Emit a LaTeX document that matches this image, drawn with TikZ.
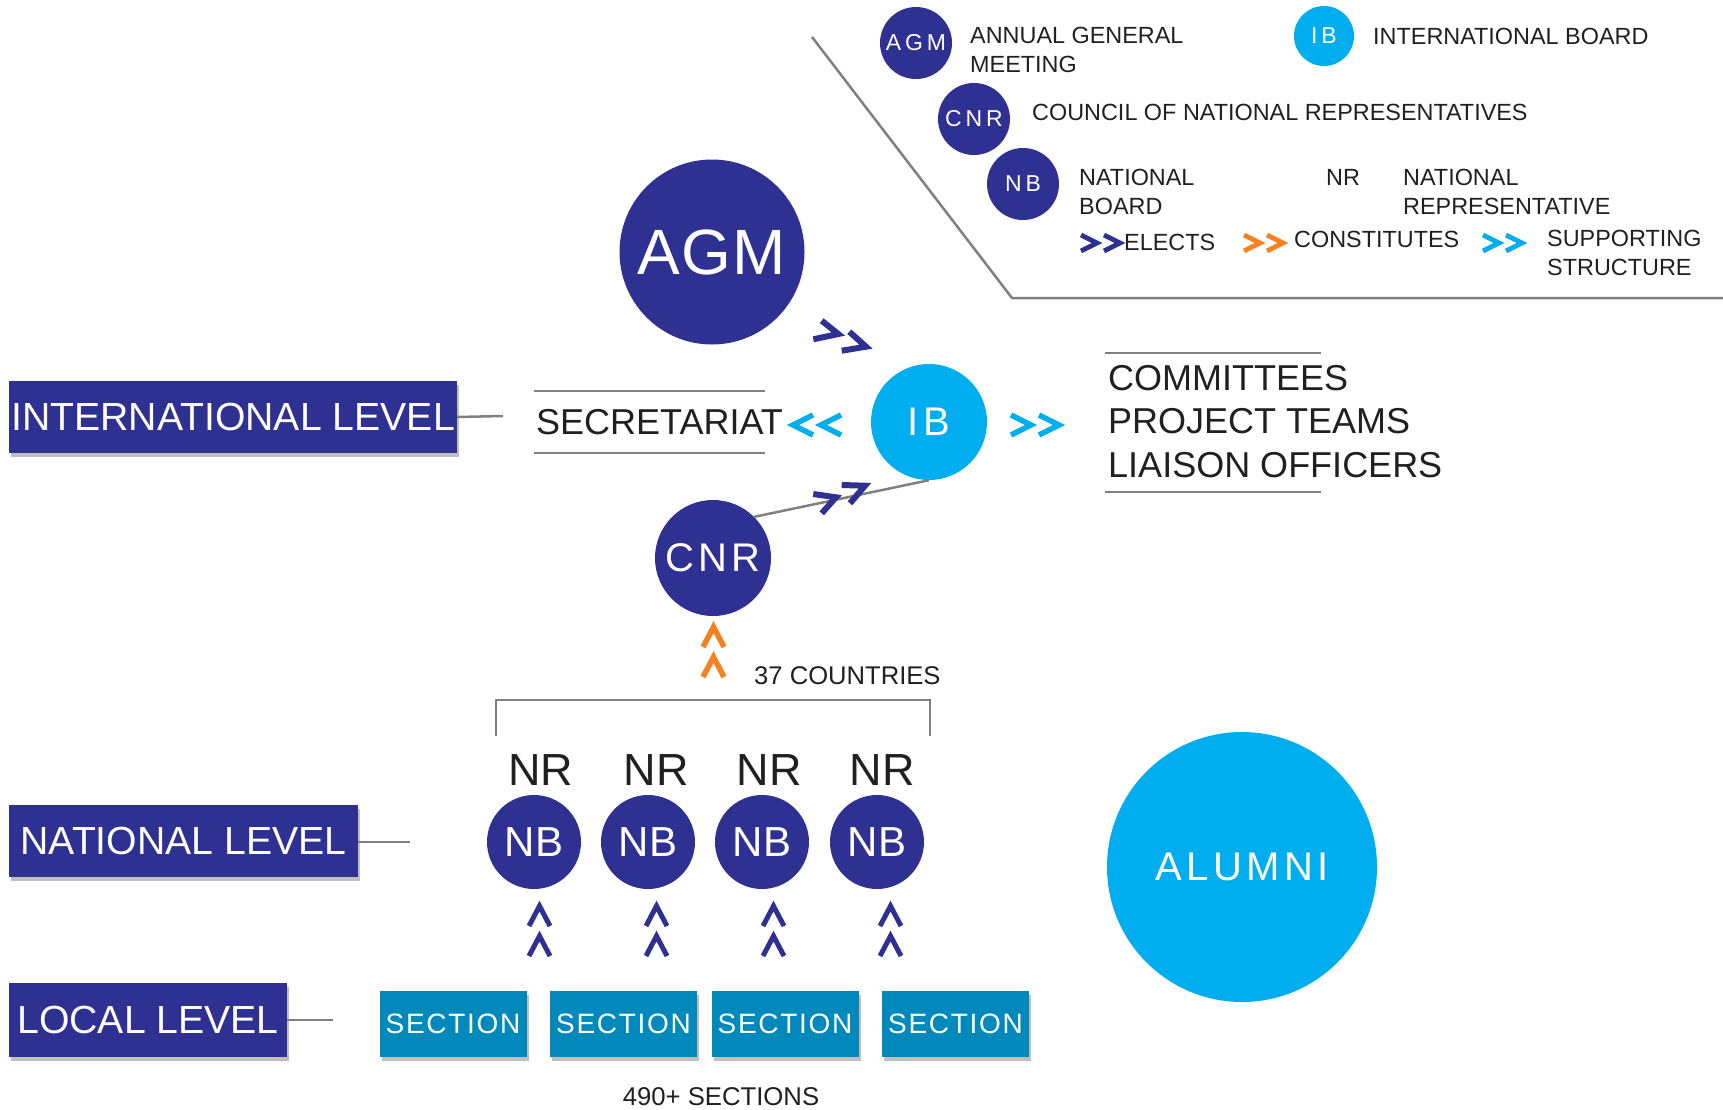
\documentclass[tikz,border=0pt]{standalone}
\usepackage{fontspec}
\setmainfont{Liberation Sans}
\usetikzlibrary{shadows}
\definecolor{dkblue}{HTML}{2E3192}
\definecolor{cyanb}{HTML}{00AEEF}
\definecolor{secblue}{HTML}{0089BA}
\definecolor{orng}{HTML}{F5821F}
\definecolor{lgray}{HTML}{808080}
\definecolor{txtdark}{HTML}{231F20}
\newcommand{\fsz}[2]{\fontsize{#1}{#2}\selectfont}
\newcommand{\lsp}[1]{\addfontfeatures{LetterSpace=#1}}
\tikzset{
  dkcirc/.style={circle, fill=dkblue, text=white, inner sep=0pt},
  cycirc/.style={circle, fill=cyanb, text=white, inner sep=0pt},
  levelbox/.style={rectangle, fill=dkblue, text=white, inner sep=0pt,
    font={\fsz{39.2}{44}},
    drop shadow={shadow xshift=2pt, shadow yshift=-4pt, fill=black, opacity=0.25}},
  secbox/.style={rectangle, fill=secblue, text=white, inner sep=0pt,
    minimum width=147pt, minimum height=66pt, font={\fsz{28}{32}\lsp{6}},
    drop shadow={shadow xshift=2pt, shadow yshift=-4pt, fill=black, opacity=0.25}},
  gline/.style={draw=lgray, line width=2.5pt},
  chevline/.style={line width=5.5pt, line join=miter, miter limit=10, line cap=butt},
  legtxt/.style={text=txtdark, inner sep=0pt, font={\fsz{23.4}{28.5}}, align=left},
  bigtxt/.style={text=txtdark, inner sep=0pt, font={\fsz{36}{43.5}}, align=left},
}
% chevrons centred at (#2,#3)
\newcommand{\chevR}[4][5.5pt]{\draw[chevline, line width=#1, draw=#4] (#2-10,#3-10) -- (#2+10,#3) -- (#2-10,#3+10);}
\newcommand{\chevL}[4][5.5pt]{\draw[chevline, line width=#1, draw=#4] (#2+10,#3-10) -- (#2-10,#3) -- (#2+10,#3+10);}
\newcommand{\chevU}[4][5.5pt]{\draw[chevline, line width=#1, draw=#4] (#2-10.5,#3+10) -- (#2,#3-10) -- (#2+10.5,#3+10);}
\newcommand{\chevRs}[3]{\draw[chevline, line width=4.8pt, draw=#3] (#1-8,#2-8) -- (#1+8,#2) -- (#1-8,#2+8);}
\begin{document}
\begin{tikzpicture}[x=1pt,y=-1pt]
\useasboundingbox (0,0) rectangle (1723,1109);

% ---------- legend ----------
\draw[gline] (812,37) -- (1012,298) -- (1723,298);
\node[dkcirc, minimum size=72pt, font={\fsz{23}{26}\lsp{17}}] (lagm) at (916,43) {AGM};
\node[legtxt, anchor=north west] (lagmt) at (970,27) {ANNUAL GENERAL\\MEETING};
\node[cycirc, minimum size=60pt, font={\fsz{23}{26}\lsp{17}}] (lib) at (1324,36) {IB};
\node[legtxt, anchor=west] (libt) at (1373,36) {INTERNATIONAL BOARD};
\node[dkcirc, minimum size=72pt, font={\fsz{23}{26}\lsp{17}}] (lcnr) at (974,119) {CNR};
\node[legtxt, anchor=west] (lcnrt) at (1032,112) {COUNCIL OF NATIONAL REPRESENTATIVES};
\node[dkcirc, minimum size=72pt, font={\fsz{23}{26}\lsp{17}}] (lnb) at (1023,184) {NB};
\node[legtxt, anchor=north west] (lnbt) at (1079,169) {NATIONAL\\BOARD};
\node[legtxt, anchor=north west] (lnr) at (1326,169) {NR};
\node[legtxt, anchor=north west] (lnrt) at (1403,169) {NATIONAL\\REPRESENTATIVE};
\chevRs{1089}{243}{dkblue}
\chevRs{1112}{243}{dkblue}
\node[legtxt, anchor=west] (lel) at (1124,242) {ELECTS};
\chevRs{1252}{243}{orng}
\chevRs{1275}{243}{orng}
\node[legtxt, anchor=west] (lco) at (1294,239) {CONSTITUTES};
\chevRs{1491}{243}{cyanb}
\chevRs{1514}{243}{cyanb}
\node[legtxt, anchor=north west] (lsu) at (1547,230) {SUPPORTING\\STRUCTURE};

% ---------- international level ----------
\node[dkcirc, minimum size=185pt, font={\fsz{64}{70}\lsp{2}}] (agm) at (712,252) {AGM};
\node[cycirc, minimum size=116pt, font={\fsz{40}{44}\lsp{14}}] (ib) at (929,422) {IB};
\node[dkcirc, minimum size=116pt, font={\fsz{40}{44}\lsp{11}}] (cnr) at (713,558) {CNR};

\node[levelbox, minimum width=448pt, minimum height=72pt] (intl) at (233,417) {INTERNATIONAL LEVEL};
\coordinate (intlend) at (503,416);
\draw[gline] (intl.east) -- (intlend);

\node[bigtxt, anchor=west] (sec) at (536,422) {SECRETARIAT};
\draw[gline] (534,391) -- (765,391);
\draw[gline] (534,453) -- (765,453);

\node[bigtxt, anchor=north west] (comm) at (1108,365) {COMMITTEES\\PROJECT TEAMS\\LIAISON OFFICERS};
\draw[gline] (1105,353) -- (1321,353);
\draw[gline] (1105,492) -- (1321,492);

% supporting structure chevrons
\chevL{803}{425}{cyanb}
\chevL{831}{425}{cyanb}
\chevR{1021}{425}{cyanb}
\chevR{1049}{425}{cyanb}

% AGM elects IB
\draw[chevline, draw=dkblue, line width=6pt] (821.7,320.7) -- (838.3,334) -- (813.3,339.3);
\draw[chevline, draw=dkblue, line width=6pt] (849.3,331.7) -- (866,346.7) -- (841.7,350.7);

% CNR elects IB
\draw[gline] (cnr.45) -- (ib.south);
\draw[chevline, draw=dkblue, line width=6pt] (813.3,494) -- (836,497.3) -- (821.7,513.3);
\draw[chevline, draw=dkblue, line width=6pt] (841.7,485) -- (865,485.7) -- (850,503.3);

% constitutes
\chevU{713.5}{637}{orng}
\chevU{713.5}{667}{orng}
\node[text=txtdark, inner sep=0pt, font={\fsz{25.6}{28}}, anchor=west] (cty) at (754,676) {37 COUNTRIES};
\draw[gline] (496,736) -- (496,700) -- (930,700) -- (930,736);

% ---------- national level ----------
\node[levelbox, minimum width=349pt, minimum height=72pt] (natl) at (183.5,841) {NATIONAL LEVEL};
\coordinate (natlend) at (410,842);
\draw[gline] (natl.east |- natlend) -- (natlend);

\foreach \i/\x/\nx in {1/534/541, 2/648/656, 3/762/769, 4/877/882}{
  \node[text=txtdark, inner sep=0pt, font={\fsz{45}{50}}] (nr\i) at (\nx,770) {NR};
  \node[dkcirc, minimum size=94pt, font={\fsz{42}{46}}] (nb\i) at (\x,842) {NB};
}
\foreach \x in {539.5, 656.5, 773.5, 890.5}{
  \chevU[5pt]{\x}{916}{dkblue}
  \chevU[5pt]{\x}{946}{dkblue}
}

% ---------- local level ----------
\node[levelbox, minimum width=278pt, minimum height=74pt] (locl) at (148,1020) {LOCAL LEVEL};
\coordinate (loclend) at (333,1020);
\draw[gline] (locl.east) -- (loclend);

\node[secbox] (s1) at (453,1024) {SECTION};
\node[secbox] (s2) at (623.5,1024) {SECTION};
\node[secbox] (s3) at (785,1024) {SECTION};
\node[secbox] (s4) at (955.5,1024) {SECTION};
\node[text=txtdark, inner sep=0pt, font={\fsz{25.7}{28}}] (nsec) at (721,1097) {490+ SECTIONS};

% ---------- alumni ----------
\node[cycirc, minimum size=270pt, font={\fsz{40}{44}\lsp{11}}] (alum) at (1242,867) {ALUMNI};
\end{tikzpicture}
\end{document}
